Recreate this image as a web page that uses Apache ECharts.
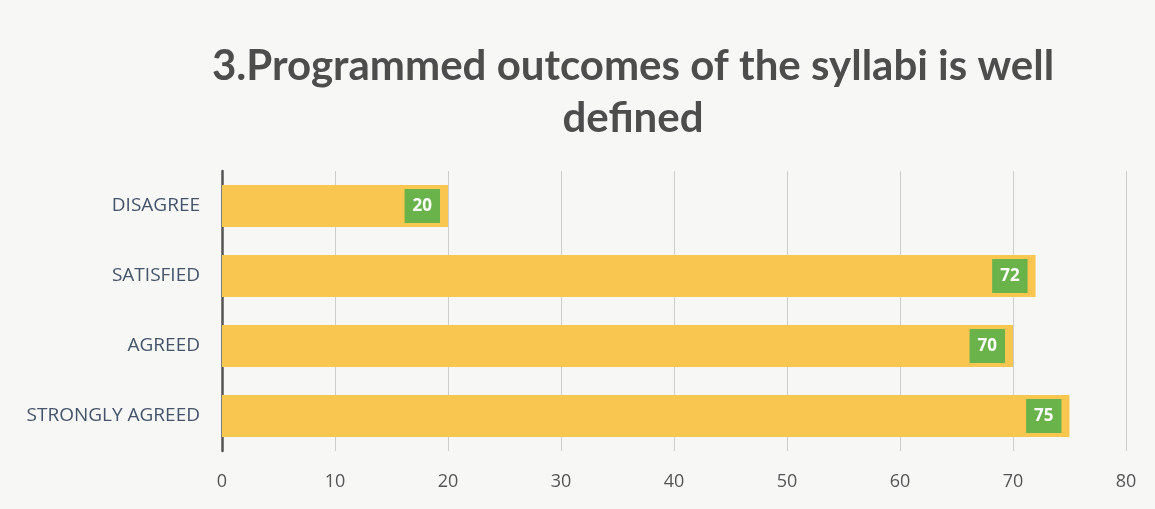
<!DOCTYPE html>
<html>
<head>
<meta charset="utf-8">
<script src="https://cdn.jsdelivr.net/npm/echarts@6/dist/echarts.min.js"></script>
<style>
  html, body { margin: 0; padding: 0; background: #f7f7f6; }
  #chart { width: 1155px; height: 509px; }
</style>
</head>
<body>
<div id="chart"></div>
<script>
// Survey responses, listed bottom-to-top on the category axis
const categories = ['STRONGLY AGREED', 'AGREED', 'SATISFIED', 'DISAGREE'];
const responses = [75, 70, 72, 20];
const axisMin = 0;
const axisMax = 80;
const axisStep = 10;

const chart = echarts.init(document.getElementById('chart'));
chart.setOption({
  backgroundColor: '#f7f7f6',
  title: {
    text: '3.Programmed outcomes of the syllabi is well\ndefined',
    left: 628,
    textAlign: 'center',
    top: 35,
    textStyle: {
      fontFamily: 'Lato',
      fontWeight: 'bold',
      fontSize: 42,
      lineHeight: 52,
      color: '#4d4d4d'
    }
  },
  grid: { left: 222, right: 29, top: 171, bottom: 58, containLabel: false },
  xAxis: {
    type: 'value',
    min: axisMin,
    max: axisMax,
    interval: axisStep,
    axisLine: { show: false },
    axisTick: { show: false },
    axisLabel: { color: '#555', fontFamily: 'Open Sans', fontSize: 18, margin: 22 },
    splitLine: { show: true, lineStyle: { color: '#cdcdcd', width: 1 } }
  },
  yAxis: {
    type: 'category',
    data: categories,
    axisLine: { show: true, lineStyle: { color: '#555', width: 2.5 } },
    axisTick: { show: false },
    axisLabel: { color: '#44546a', fontFamily: 'Open Sans', fontSize: 19, margin: 22 }
  },
  series: [{
    type: 'bar',
    data: responses,
    barCategoryGap: '40%',
    itemStyle: { color: '#f9c74f' },
    label: {
      show: true,
      position: 'insideRight',
      distance: 8,
      color: '#ffffff',
      fontFamily: 'Open Sans',
      fontWeight: 'bold',
      fontSize: 17,
      lineHeight: 17,
      backgroundColor: '#6ab34b',
      padding: [9, 8, 8, 8]
    },
    silent: true
  }],
  animation: false
});
</script>
</body>
</html>
